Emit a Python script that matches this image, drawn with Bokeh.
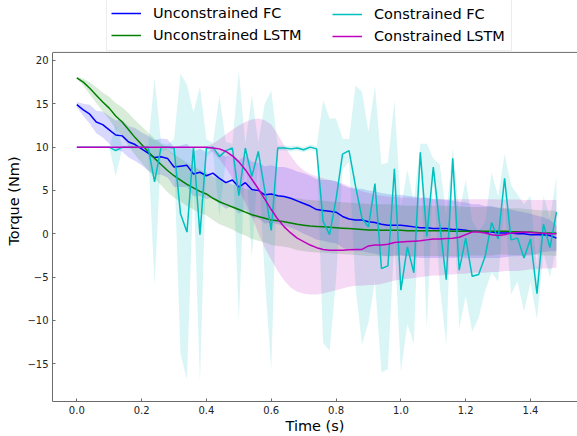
from bokeh.plotting import figure
from bokeh.models import Legend, LegendItem, FixedTicker, Range1d, Title
from bokeh.embed import file_html
from bokeh.resources import INLINE

# time axis (s), sampled every 0.02 s
t = [round(0.02 * i, 2) for i in range(75)]

# Unconstrained FC (blue): mean and spread
ufc = [14.9, 14.3, 13.8, 12.9, 12.6, 12.0, 11.4, 11.3, 10.6, 10.3,
       9.8, 9.3, 8.8, 8.9, 8.7, 7.7, 7.8, 7.9, 6.9, 7.1,
       6.7, 7.0, 6.4, 5.9, 6.2, 5.4, 5.9, 5.1, 5.0, 4.5,
       4.6, 4.4, 4.3, 4.1, 3.8, 3.5, 3.2, 2.8, 2.7, 2.6,
       2.5, 2.0, 1.7, 1.6, 1.6, 1.4, 1.3, 1.1, 1.0, 1.0,
       1.0, 0.9, 0.8, 0.7, 0.7, 0.6, 0.6, 0.6, 0.5, 0.5,
       0.4, 0.3, 0.3, 0.2, 0.2, 0.1, 0.1, 0.1, 0.0, 0.0,
       -0.1, -0.1, -0.1, -0.2, -0.5]
ufc_std = [0.3, 0.7, 1.1, 1.3, 1.5, 1.6, 1.7, 1.8, 1.8, 1.9,
           1.9, 2.0, 2.0, 2.1, 2.2, 2.3, 2.4, 2.5, 2.6, 2.7,
           2.7, 2.8, 2.9, 3.0, 3.0, 3.1, 3.1, 3.2, 3.2, 3.3,
           3.3, 3.3, 3.4, 3.4, 3.4, 3.5, 3.5, 3.5, 3.5, 3.6,
           3.6, 3.6, 3.6, 3.6, 3.6, 3.6, 3.6, 3.6, 3.6, 3.5,
           3.5, 3.5, 3.5, 3.5, 3.5, 3.4, 3.4, 3.3, 3.3, 3.2,
           3.2, 3.1, 3.1, 3.0, 3.0, 2.9, 2.8, 2.7, 2.6, 2.5,
           2.4, 2.2, 2.0, 1.8, 1.5]

# Unconstrained LSTM (green): mean and spread
ulstm = [18.0, 17.5, 16.8, 16.0, 15.2, 14.5, 13.6, 12.9, 12.0, 11.1,
         10.3, 9.5, 8.7, 8.0, 7.3, 6.7, 6.2, 5.7, 5.3, 4.9,
         4.6, 4.1, 3.7, 3.4, 3.1, 2.8, 2.5, 2.2, 2.0, 1.8,
         1.6, 1.5, 1.4, 1.25, 1.1, 1.0, 0.9, 0.85, 0.8, 0.75,
         0.7, 0.65, 0.6, 0.55, 0.5, 0.45, 0.45, 0.4, 0.4, 0.4,
         0.4, 0.35, 0.35, 0.35, 0.35, 0.35, 0.35, 0.35, 0.3, 0.3,
         0.3, 0.3, 0.3, 0.3, 0.3, 0.3, 0.3, 0.25, 0.25, 0.2,
         0.2, 0.15, 0.1, 0.1, 0.05]
ulstm_std = [0.1, 0.4, 0.7, 0.9, 1.1, 1.3, 1.5, 1.7, 1.9, 2.0,
             2.1, 2.2, 2.3, 2.4, 2.5, 2.5, 2.5, 2.5, 2.5, 2.5,
             2.5, 2.5, 2.6, 2.6, 2.6, 2.7, 2.7, 2.8, 2.8, 2.8,
             2.9, 2.9, 2.9, 2.9, 3.0, 3.0, 3.0, 3.0, 3.0, 3.0,
             3.0, 3.0, 3.0, 3.0, 3.0, 3.0, 3.0, 3.0, 3.0, 3.0,
             2.9, 2.9, 2.9, 2.9, 2.9, 2.9, 2.9, 2.9, 2.9, 2.9,
             2.8, 2.8, 2.8, 2.8, 2.8, 2.7, 2.7, 2.7, 2.7, 2.7,
             2.6, 2.6, 2.6, 2.6, 2.6]

# Constrained FC (cyan): mean and spread
cfc = [10.0, 10.0, 10.0, 10.0, 10.0, 10.0, 9.6, 10.0, 10.0, 10.0,
       10.0, 10.0, 6.0, 10.0, 10.0, 9.9, 2.3, 0.2, 10.0, -0.1,
       9.9, 10.0, 8.9, 9.6, 9.9, 4.4, 9.9, 6.6, 9.5, 5.0,
       0.4, 9.9, 9.9, 9.8, 9.9, 9.7, 10.0, 9.8, 1.4, -0.1,
       4.0, 9.2, 9.6, 5.5, 1.8, 0.8, 5.8, -4.0, -3.7, 7.5,
       -6.5, -1.5, -4.5, 9.4, -0.3, 7.7, 1.0, -5.3, 8.7, -4.2,
       -0.5, -4.9, -4.7, -2.6, 1.3, -0.6, 6.4, -0.7, -0.5, -2.8,
       -0.6, -6.9, 1.1, -1.6, 2.5]
cfc_std = [0.0, 0.0, 0.0, 0.0, 0.0, 0.0, 3.0, 0.2, 0.2, 0.2,
           0.2, 0.2, 12.0, 0.5, 0.3, 1.0, 16.2, 17.0, 4.0, 17.1,
           1.0, 0.5, 7.0, 1.0, 0.5, 14.4, 0.5, 9.4, 1.0, 10.0,
           16.1, 0.3, 0.3, 0.3, 0.3, 0.3, 0.3, 0.3, 14.0, 13.4,
           9.3, 1.8, 1.3, 11.6, 14.6, 11.0, 11.3, 12.0, 11.9, 7.9,
           9.5, 8.9, 8.2, 1.0, 10.7, 1.0, 7.0, 7.5, 1.2, 6.7,
           6.7, 6.4, 5.0, 4.0, 5.8, 4.9, 2.8, 6.3, 5.0, 6.2,
           5.0, 3.0, 3.3, 3.4, 4.1]

# Constrained LSTM (magenta): mean, upper and lower bounds
clstm = [10.0] * 20 + [
         10.0, 9.9, 9.8, 9.5, 9.0, 8.3, 7.4, 6.3, 5.2, 4.0,
         2.8, 1.7, 0.8, 0.1, -0.5, -0.9, -1.3, -1.6, -1.8, -1.9,
         -1.9, -1.9, -1.85, -1.8, -1.8, -1.4, -1.3, -1.3, -1.2, -1.0,
         -0.95, -0.9, -0.85, -0.8, -0.7, -0.6, -0.6, -0.55, -0.5, -0.4,
         -0.1, 0.2, 0.2, 0.1, -0.1, -0.2, -0.1, 0.1, 0.15, 0.2,
         0.15, 0.1, 0.05, 0.0, 0.0]
clstm_hi = [10.0] * 20 + [
            10.1, 10.4, 10.9, 11.5, 12.0, 12.5, 12.9, 13.2, 13.3, 13.1,
            12.6, 11.5, 10.2, 9.0, 8.0, 7.3, 6.9, 6.6, 6.4, 6.2,
            6.0, 5.8, 5.5, 5.2, 4.9, 4.7, 4.5, 4.4, 4.3, 4.25,
            4.2, 4.2, 4.15, 4.1, 4.1, 4.05, 4.0, 4.0, 4.0, 4.0,
            4.0, 4.0, 4.0, 4.0, 4.0, 3.95, 3.95, 3.95, 3.95, 3.9,
            3.9, 3.9, 3.9, 3.9, 3.9]
clstm_lo = [10.0] * 20 + [
            9.9, 9.4, 8.6, 7.6, 6.4, 5.0, 3.6, 2.0, 0.1, -1.6,
            -3.0, -4.3, -5.4, -6.2, -6.7, -6.9, -7.0, -7.0, -6.9, -6.7,
            -6.5, -6.3, -6.1, -6.0, -6.0, -5.9, -5.9, -5.8, -5.6, -5.4,
            -5.3, -5.2, -5.1, -5.0, -4.9, -4.8, -4.8, -4.7, -4.7, -4.6,
            -4.6, -4.5, -4.5, -4.5, -4.4, -4.4, -4.3, -4.3, -4.3, -4.2,
            -4.1, -4.1, -4.0, -4.0, -3.9]

x_ticks = [0.0, 0.2, 0.4, 0.6, 0.8, 1.0, 1.2, 1.4]
x_tick_labels = ["0.0", "0.2", "0.4", "0.6", "0.8", "1.0", "1.2", "1.4"]
y_ticks = [-15, -10, -5, 0, 5, 10, 15, 20]
y_tick_labels = ["\u221215", "\u221210", "\u22125", "0", "5", "10", "15", "20"]

series_names = ["Unconstrained FC", "Unconstrained LSTM", "Constrained FC", "Constrained LSTM"]
colors = ["#0000ff", "#008000", "#00bfbf", "#bf00bf"]

FONT = "DejaVu Sans"
SPINE = "#6b6b6b"
X_LO, X_HI = -0.075, 1.545
Y_BOT, Y_TOP = -19.35, 20.93      # axes box
Y_CANVAS_TOP = 26.92              # frame extends above the axes box to hold the legend

p = figure(width=577, height=436, output_backend="svg", toolbar_location=None,
           x_range=Range1d(X_LO, X_HI), y_range=Range1d(Y_BOT, Y_CANVAS_TOP),
           min_border_left=52, min_border_right=0, min_border_top=0,
           min_border_bottom=34)
p.grid.visible = False
p.outline_line_color = None
p.background_fill_color = "white"

means = [ufc, ulstm, cfc, clstm]
lows = [[m - s for m, s in zip(ufc, ufc_std)],
        [m - s for m, s in zip(ulstm, ulstm_std)],
        [m - s for m, s in zip(cfc, cfc_std)],
        clstm_lo]
highs = [[m + s for m, s in zip(ufc, ufc_std)],
         [m + s for m, s in zip(ulstm, ulstm_std)],
         [m + s for m, s in zip(cfc, cfc_std)],
         clstm_hi]

for lo, hi, c in zip(lows, highs, colors):
    p.varea(x=t, y1=lo, y2=hi, fill_color=c, fill_alpha=0.15)

line_renderers = []
for m, c in zip(means, colors):
    r = p.line(t, m, line_color=c, line_width=1.5)
    line_renderers.append(r)

# top spine of the axes box
p.segment(x0=[X_LO], y0=[Y_TOP], x1=[X_HI], y1=[Y_TOP], line_color=SPINE, line_width=1)

xa = p.xaxis[0]
xa.ticker = FixedTicker(ticks=x_ticks)
xa.major_label_overrides = {k: v for k, v in zip(x_ticks, x_tick_labels)}
ya = p.yaxis[0]
ya.ticker = FixedTicker(ticks=y_ticks)
ya.major_label_overrides = {k: v for k, v in zip(y_ticks, y_tick_labels)}
ya.bounds = (Y_BOT, Y_TOP)

for ax in (xa, ya):
    ax.axis_line_color = SPINE
    ax.axis_line_width = 1
    ax.major_tick_line_color = SPINE
    ax.major_tick_in = 3
    ax.major_tick_out = 0
    ax.minor_tick_line_color = None
    ax.major_label_text_font = FONT
    ax.major_label_text_font_size = "10px"
    ax.major_label_text_color = "#222222"
    ax.major_label_standoff = 4
    ax.axis_label_text_font = FONT
    ax.axis_label_text_font_size = "14.5px"
    ax.axis_label_text_font_style = "normal"
    ax.axis_label_text_color = "black"

xa.axis_label = "Time (s)"
xa.axis_label_standoff = 1

# y label as a side title so it can be centred on the axes box, not the whole frame
ytitle = Title(text="Torque (Nm)", align="center", offset=-21, standoff=5,
               text_font=FONT, text_font_size="14.5px", text_font_style="normal",
               text_color="black")
p.add_layout(ytitle, "left")

common = dict(label_text_font=FONT, label_text_font_size="14.5px",
              label_text_color="black", orientation="vertical",
              glyph_width=30, glyph_height=22, label_height=22,
              label_standoff=12, spacing=0, padding=4, margin=0,
              label_width=354, border_line_width=1)

# first column carries the frame of the whole legend box
leg1 = Legend(items=[LegendItem(label=series_names[i], renderers=[line_renderers[i]]) for i in (0, 1)],
              location=(54, 350),
              border_line_color="#d9d9d9",
              background_fill_color="white", background_fill_alpha=1.0, **common)
leg2 = Legend(items=[LegendItem(label=series_names[i], renderers=[line_renderers[i]]) for i in (2, 3)],
              location=(276, 350),
              border_line_color="#d9d9d9", border_line_alpha=0.0,
              background_fill_color="white", background_fill_alpha=0.0, **common)
p.add_layout(leg1, "center")
p.add_layout(leg2, "center")

open("out.html", "w").write(file_html(p, INLINE))
